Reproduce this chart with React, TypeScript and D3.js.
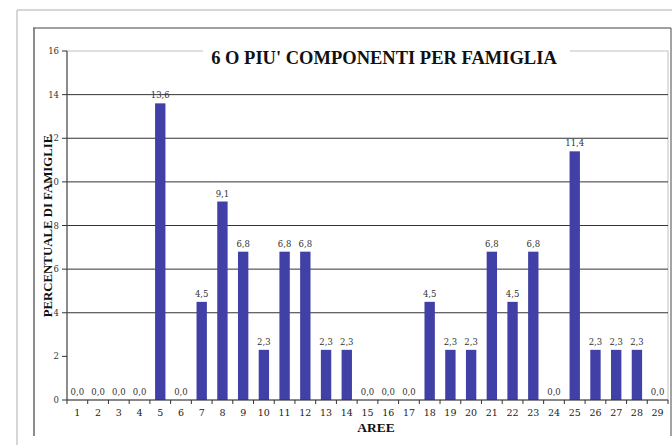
import React from "react";
import * as d3 from "d3";

const categories = Array.from({ length: 29 }, (_, i) => String(i + 1));
const values = [0, 0, 0, 0, 13.6, 0, 4.5, 9.1, 6.8, 2.3, 6.8, 6.8, 2.3, 2.3, 0, 0, 0, 4.5, 2.3, 2.3, 6.8, 4.5, 6.8, 0, 11.4, 2.3, 2.3, 2.3, 0];
const yTicks = [0, 2, 4, 6, 8, 10, 12, 14, 16];
const gridTicks = [4, 6, 8, 10, 12, 14];
const title = "6 O PIU' COMPONENTI PER FAMIGLIA";

export default function App() {
  const W = 672, H = 445;
  const left = 67, right = 668, top = 51, bottom = 400;
  const x = d3.scaleBand<string>().domain(categories).range([left, right]).paddingInner(0.5).paddingOuter(0.25);
  const xb = d3.scaleBand<string>().domain(categories).range([left, right]);
  const y = d3.scaleLinear().domain([0, 16]).range([bottom, top]);
  const fmt = (v: number) => v.toFixed(1).replace(".", ",");
  const serif = { fontFamily: '"DejaVu Serif", serif' };
  const times = { fontFamily: '"Liberation Serif", "Times New Roman", serif' };
  return (
    <svg width={W} height={H} style={{ position: "absolute", left: 0, top: 0, background: "#fff" }}>
      <rect x={0} y={0} width={W} height={H} fill="#fff" />
      {/* outer light frame */}
      <line x1={17} y1={10} x2={W} y2={10} stroke="#c8c8c8" strokeWidth={1.5} />
      <line x1={17} y1={10} x2={17} y2={H} stroke="#c8c8c8" strokeWidth={1.5} />
      {/* inner dark frame */}
      <line x1={33} y1={28} x2={671} y2={28} stroke="#444" strokeWidth={1.2} />
      <line x1={34} y1={28} x2={34} y2={436} stroke="#666" strokeWidth={1.5} />
      <line x1={671} y1={28} x2={671} y2={436} stroke="#666" strokeWidth={1.2} />
      {/* plot area border */}
      <rect x={left} y={top} width={right - left} height={bottom - top} fill="none" stroke="#c0c0c0" strokeWidth={1} />
      {gridTicks.map((t) => (
        <line key={t} x1={left} x2={right} y1={y(t)} y2={y(t)} stroke="#333" strokeWidth={1} />
      ))}
      {/* title box */}
      <rect x={203} y={44} width={367} height={24} fill="#fff" />
      <text x={384} y={64} textAnchor="middle" style={times} fontWeight="bold" fontSize={18.5} fill="#111">{title}</text>
      {/* bars */}
      {values.map((v, i) => (
        <rect key={i} x={x(categories[i])} y={y(v)} width={x.bandwidth()} height={bottom - y(v)} fill="#4040a6" />
      ))}
      {values.map((v, i) => (
        <text key={"l" + i} x={(x(categories[i]) as number) + x.bandwidth() / 2} y={y(v) - 5} textAnchor="middle" style={serif} fontSize={8.5} fill="#333">{fmt(v)}</text>
      ))}
      {/* axes */}
      <line x1={left} x2={left} y1={top} y2={bottom} stroke="#555" strokeWidth={1.2} />
      <line x1={left} x2={right} y1={bottom} y2={bottom} stroke="#333" strokeWidth={1.2} />
      {yTicks.map((t) => (
        <g key={t}>
          <line x1={left - 5} x2={left} y1={y(t)} y2={y(t)} stroke="#333" />
          <text x={left - 8} y={y(t) + 3} textAnchor="end" style={serif} fontSize={8.5} fill="#333">{t}</text>
        </g>
      ))}
      {categories.map((c, i) => (
        <g key={c}>
          <line x1={xb(c)} x2={xb(c)} y1={bottom} y2={bottom + 4} stroke="#333" />
          {i === categories.length - 1 && (
            <line x1={right} x2={right} y1={bottom} y2={bottom + 4} stroke="#333" />
          )}
          <text x={(xb(c) as number) + xb.bandwidth() / 2} y={bottom + 16} textAnchor="middle" style={serif} fontSize={9.5} fill="#222">{c}</text>
        </g>
      ))}
      <text x={376} y={432} textAnchor="middle" style={times} fontWeight="bold" fontSize={13.5} fill="#111">AREE</text>
      <text transform={`translate(52,226) rotate(-90)`} textAnchor="middle" style={times} fontWeight="bold" fontSize={12.8} fill="#111">PERCENTUALE DI FAMIGLIE</text>
    </svg>
  );
}
